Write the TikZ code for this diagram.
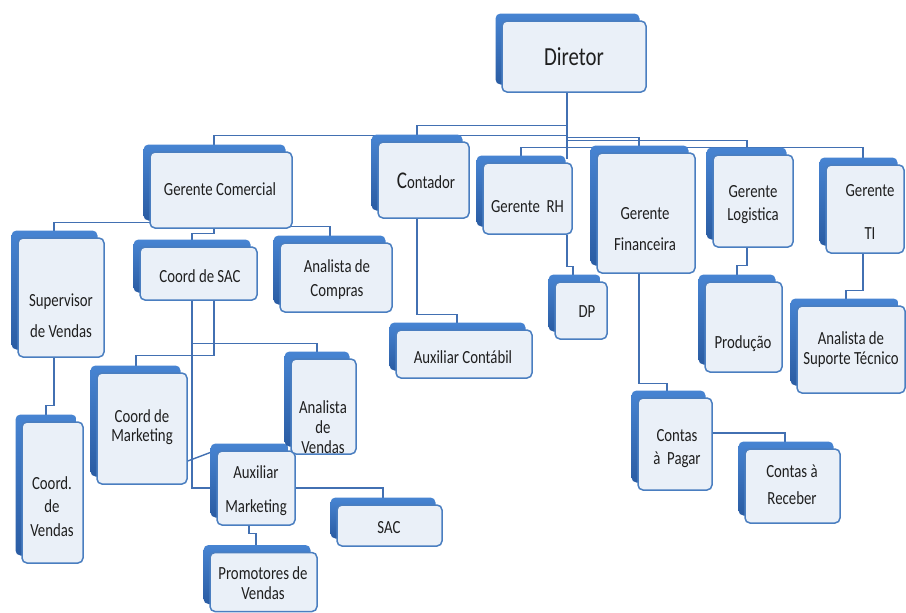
\documentclass[tikz,border=0pt]{standalone}
\usepackage{fontspec}
\setmainfont{Carlito}[FakeStretch=0.8]
\usetikzlibrary{backgrounds}
\definecolor{bbtop}{HTML}{4784D2}
\definecolor{bbbot}{HTML}{2A5CA3}
\definecolor{fbfill}{HTML}{EAF0F8}
\definecolor{fbline}{HTML}{4A7EC0}
\definecolor{connc}{HTML}{4270B2}
\pgfdeclarelayer{bottom}
\pgfsetlayers{bottom,background,main}
\newcommand\orgbox[5]{\node[obox, minimum width=#4, minimum height=#5] (#1) at (#2,#3) {};}
\newcommand\orgtext[5]{\node[txt, font=\fontsize{18.5}{#4}\selectfont] (#1) at (#2,#3) {#5};}
\begin{document}
\begin{tikzpicture}[x=1pt,y=-1pt,
 obox/.style={draw=fbline, line width=1.5pt, fill=fbfill, rounded corners=5pt, inner sep=0pt,
   preaction={draw=none, top color=bbtop, bottom color=bbbot, transform canvas={shift={(-6.5pt,7.5pt)}}}},
 txt/.style={align=center, inner sep=0pt, text=black!88},
 connector/.style={draw=connc, line width=1.4pt},
]
\useasboundingbox (0,0) rectangle (906,613);
\begin{pgfonlayer}{bottom}
\fill[white] (0,0) rectangle (906,613);
\end{pgfonlayer}

% boxes
\orgbox{dir}{574}{56.5}{144}{71}
\node[txt, font=\fontsize{26}{26}\selectfont] (dirt) at (574,57) {Diretor};

\orgbox{gc}{221}{190}{142}{76}
\orgtext{gct}{220}{189}{22}{Gerente Comercial}

\orgbox{cont}{423.5}{180}{91}{76}
\orgtext{contt}{426}{181}{22}{{\fontsize{24}{24}\selectfont C}ontador}

\orgbox{rh}{527.5}{198.5}{89}{71}
\orgtext{rht}{527.5}{207}{22}{Gerente\ \ RH}

\orgbox{dp}{581}{310.5}{52}{57}
\orgtext{dpt}{587}{312}{22}{DP}

\orgbox{auxc}{464}{354}{136}{48}
\orgtext{auxct}{463}{357}{22}{Auxiliar Contábil}

\orgbox{gf}{646}{213}{98}{120}
\orgtext{gft}{645}{229.5}{31}{Gerente\\Financeira}

\orgbox{gl}{753}{201}{80}{92}
\orgtext{glt}{753}{204.5}{23}{Gerente\\Logistica}

\orgbox{prod}{743.5}{327}{77}{90}
\orgtext{prodt}{743}{344}{22}{Produção}

\orgbox{ti}{865}{209}{78}{88}
\orgtext{tit}{870}{211.5}{43}{Gerente\\TI}

\orgbox{ast}{851}{349.5}{108}{87}
\orgtext{astt}{851}{350}{20}{Analista de\\Suporte Técnico}

\orgbox{cp}{675}{444}{74}{92}
\orgtext{cpt}{677}{448.5}{23}{Contas\\à\ \ Pagar}

\orgbox{cr}{792.5}{486}{95}{74}
\orgtext{crt}{792}{484.5}{27}{Contas à\\Receber}

\orgbox{sv}{61}{297.5}{86}{119}
\orgtext{svt}{61}{315.5}{31}{Supervisor\\de Vendas}

\orgbox{cv}{52.5}{492.5}{61}{141}
\orgtext{cvt}{52}{506.5}{23.5}{Coord.\\de\\Vendas}

\orgbox{csac}{198.5}{273.5}{117}{53}
\orgtext{csact}{200}{276}{22}{Coord de SAC}

\orgbox{ac}{336}{277.5}{112}{69}
\orgtext{act}{337}{280}{24}{Analista de\\Compras}

\orgbox{cm}{142}{428.5}{90}{111}
\orgtext{cmt}{142}{427.5}{19}{Coord de\\Marketing}

\orgbox{am}{256}{488}{78}{74}
\orgtext{amt}{256}{491}{34}{Auxiliar\\Marketing}

\orgbox{av}{323.5}{406.5}{65}{95}
\orgtext{avt}{323}{427}{20}{Analista\\de\\Vendas}

\orgbox{pv}{263.5}{582}{107}{59}
\orgtext{pvt}{263}{583}{20}{Promotores de\\Vendas}

\orgbox{sac}{389.5}{525.5}{105}{41}
\orgtext{sact}{389}{528}{22}{SAC}

% connectors
\begin{pgfonlayer}{background}
\coordinate (d0) at ([xshift=-7pt]dir.south);
\draw[connector] (d0) -- ++(0,66);
\draw[connector] (d0) -- ++(0,33) -| ([xshift=-6.5pt]cont.north);
\draw[connector] (d0) -- ++(0,43) -| ([xshift=-7pt]gc.north);
\draw[connector] (d0) -- ++(0,45) -| ([xshift=-7pt]gf.north);
\draw[connector] (d0) -- ++(0,48) -| ([xshift=-6pt]gl.north);
\draw[connector] (d0) -- ++(0,55) -| ([xshift=-6.5pt]rh.north);
\draw[connector] (d0) -- ++(0,55) -| ([xshift=-2pt]ti.north);

\draw[connector] ([xshift=-7pt]gc.south) -- ++(0,-6) -| ([xshift=-7pt]sv.north);
\draw[connector] ([xshift=-7pt]gc.south) -- ++(0,-2) -| ([xshift=-6pt]ac.north);
\draw[connector] ([xshift=-7pt]gc.south) -- ++(0,5) -| ([xshift=-6.5pt]csac.north);

\draw[connector] ([xshift=15.5pt]csac.south) -- ++(0,55) -| ([xshift=-6pt]cm.north);
\draw[connector] ([xshift=-6.5pt]csac.south) -- ++(0,43) -| ([xshift=-6.5pt]av.north);
\draw[connector] ([xshift=-6.5pt]csac.south) |- (am.west);
\draw[connector] (am.east) -| ([xshift=-6.5pt]sac.north);
\draw[connector] ([yshift=-32.5pt]cm.east) -- (am.north west);
\draw[connector] ([xshift=-7pt]am.south) -- ++(0,8) -| ([xshift=-7.5pt]pv.north);

\draw[connector] ([xshift=-7pt]sv.south) -- ++(0,48) -| ([xshift=-6.5pt]cv.north);
\draw[connector] ([xshift=-6.5pt]cont.south) -- ++(0,96) -| ([xshift=-7pt]auxc.north);
\draw[connector] ([xshift=39.5pt]rh.south) -- ++(0,32) -| ([xshift=-8pt]dp.north);
\draw[connector] ([xshift=-7pt]gf.south) -- ++(0,110) -| ([xshift=-8pt]cp.north);
\draw[connector] ([yshift=11pt]cp.east) -| ([xshift=-7.5pt]cr.north);
\draw[connector] ([xshift=-6pt]gl.south) -- ++(0,18) -| ([xshift=-6.5pt]prod.north);
\draw[connector] ([xshift=-2pt]ti.south) -- ++(0,37) -| ([xshift=-5pt]ast.north);
\end{pgfonlayer}
\end{tikzpicture}
\end{document}
